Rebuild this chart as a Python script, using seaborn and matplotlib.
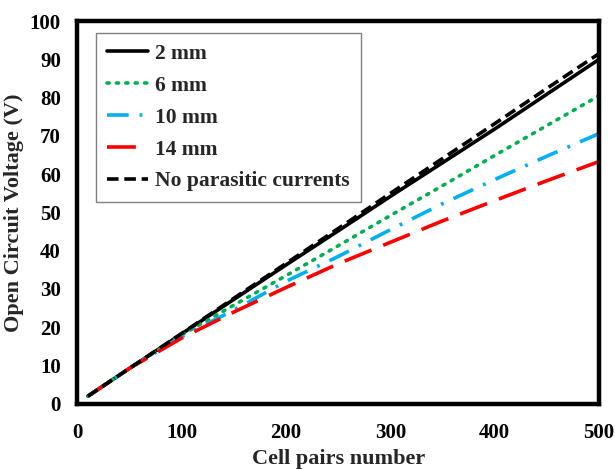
import matplotlib
matplotlib.use("Agg")
import matplotlib.pyplot as plt
import seaborn as sns
import pandas as pd

cell_pairs = [10, 50, 100, 150, 200, 250, 300, 350, 400, 450, 500]
v_2mm = [2.0, 9.3, 18.3, 27.3, 36.3, 45.2, 54.2, 63.0, 71.8, 80.9, 90.0]
v_6mm = [2.0, 9.3, 18.0, 25.8, 33.5, 41.3, 49.2, 57.0, 64.9, 72.7, 80.5]
v_10mm = [2.0, 9.3, 17.6, 24.5, 32.0, 38.5, 45.5, 52.3, 58.6, 64.7, 70.6]
v_14mm = [2.0, 9.3, 17.2, 24.0, 30.4, 36.6, 42.2, 47.8, 53.1, 58.3, 63.3]
v_none = [2.0, 9.3, 18.4, 27.6, 36.7, 45.8, 55.0, 64.1, 73.2, 82.4, 91.5]

labels = ["2 mm", "6 mm", "10 mm", "14 mm", "No parasitic currents"]
series = [v_2mm, v_6mm, v_10mm, v_14mm, v_none]
colors = ["#000000", "#00B050", "#00B0F0", "#FF0000", "#000000"]
dashes = [None, (0.6, 2.0), (6, 3, 0.8, 3), (8, 3.5), (3.2, 1.6)]

sns.set_theme(style="white")
plt.rcParams['font.family'] = ['Liberation Serif', 'DejaVu Serif']
plt.rcParams['font.weight'] = 'bold'

rows = []
for lab, vals in zip(labels, series):
    for x, y in zip(cell_pairs, vals):
        rows.append({"Cell pairs number": x, "Voltage": y, "Series": lab})
df = pd.DataFrame(rows)

fig = plt.figure(figsize=(6.15, 4.69), dpi=100)
ax = fig.add_axes([0.126, 0.139, 0.848, 0.816])

for lab, col, ds in zip(labels, colors, dashes):
    sub = df[df["Series"] == lab]
    sns.lineplot(data=sub, x="Cell pairs number", y="Voltage", ax=ax,
                 color=col, linewidth=2.6, label=lab, legend=False)
    l = ax.get_lines()[-1]
    if ds is not None:
        l.set_dashes(ds)
        if lab == "6 mm":
            l.set_dash_capstyle("round")

ax.set_xlim(0, 500)
ax.set_ylim(0, 100)
ax.set_xticks(range(0, 501, 100))
ax.set_yticks(range(0, 101, 10))
ax.tick_params(axis="y", direction="in", length=5, width=1.2, labelsize=15,
               pad=12, colors="black")
ax.tick_params(axis="x", direction="in", length=5, width=1.2, labelsize=15,
               pad=14, colors="black")
for t in ax.get_xticklabels() + ax.get_yticklabels():
    t.set_fontweight("bold")
for s in ax.spines.values():
    s.set_visible(True)
    s.set_linewidth(3.2)
    s.set_color("black")

ax.set_xlabel("Cell pairs number", fontsize=16, fontweight="bold", labelpad=4)
ax.set_ylabel("Open Circuit Voltage (V)", fontsize=16, fontweight="bold", labelpad=4)

leg = ax.legend(loc="upper left", bbox_to_anchor=(0.036, 0.969), fancybox=False,
                edgecolor="#808080", framealpha=1,
                handlelength=1.9, labelspacing=0.55, borderpad=0.5,
                handletextpad=0.35, borderaxespad=0,
                prop={"weight": "bold", "size": 15.5})
leg.get_frame().set_linewidth(1.0)

fig.savefig("out.png", dpi=100)
